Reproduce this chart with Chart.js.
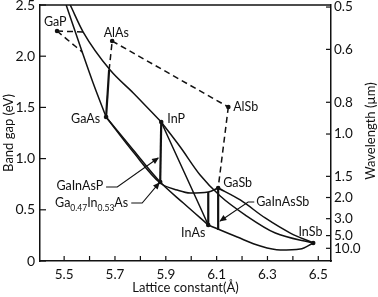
<!DOCTYPE html>
<html>
<head>
<meta charset="utf-8">
<script src="https://cdn.jsdelivr.net/npm/chart.js@4"></script>
<style>
  html, body { margin: 0; padding: 0; background: #fff; }
</style>
</head>
<body>
<canvas id="bandgap" width="378" height="297"></canvas>
<script>
// Binary compounds: lattice constant (Å) and band gap (eV)
const compoundNames = ['GaP', 'AlAs', 'AlSb', 'GaAs', 'InP', 'GaSb', 'InAs', 'InSb', 'Ga0.47In0.53As'];
const compoundA = [5.472, 5.689, 6.146, 5.665, 5.882, 6.106, 6.067, 6.480, 5.878];
const compoundE = [2.246, 2.148, 1.504, 1.406, 1.357, 0.713, 0.352, 0.176, 0.771];

// Alloy curves, [a, Eg]
const gaAsP = [[5.508, 2.50], [5.571, 2.041], [5.614, 1.738], [5.665, 1.406]];
const gaAsPIndirect = [[5.472, 2.246], [5.571, 2.041]];
const gaInP = [[5.524, 2.50], [5.575, 2.236], [5.681, 1.865], [5.772, 1.641], [5.882, 1.357]];
const gaInPIndirect = [[5.472, 2.246], [5.579, 2.236]];
const alGaAs = [[5.665, 1.406], [5.677, 1.865]];
const alGaAsIndirect = [[5.677, 1.865], [5.689, 2.148]];
const alAsSb = [[5.689, 2.148], [6.146, 1.504]];
const alGaSb = [[6.146, 1.504], [6.106, 0.713]];
const gaInAs = [[5.665, 1.406], [5.772, 1.084], [5.878, 0.771], [5.969, 0.566], [6.067, 0.352]];
const gaAsSb = [[5.665, 1.406], [5.772, 1.064], [5.878, 0.762], [5.945, 0.693], [5.996, 0.664], [6.067, 0.674], [6.106, 0.713]];
const inAsP = [[5.882, 1.357], [5.972, 0.869], [6.067, 0.352]];
const inPSb = [[5.882, 1.357], [5.957, 1.113], [6.035, 0.840], [6.114, 0.635], [6.213, 0.449], [6.331, 0.273], [6.480, 0.176]];
const gaInSb = [[6.106, 0.713], [6.193, 0.596], [6.291, 0.420], [6.390, 0.273], [6.480, 0.176]];
const inAsSb = [[6.067, 0.352], [6.181, 0.234], [6.272, 0.146], [6.350, 0.107], [6.429, 0.117], [6.480, 0.176]];
const gaInAsP = [[5.882, 1.357], [5.878, 0.771]];
const gaInAsSbA = [[6.067, 0.352], [6.067, 0.674]];
const gaInAsSbB = [[6.106, 0.713], [6.106, 0.303]];

// Axis ticks
const xTicks = [5.5, 5.6, 5.7, 5.8, 5.9, 6.0, 6.1, 6.2, 6.3, 6.4, 6.5];
const xLabels = [5.5, 5.7, 5.9, 6.1, 6.3, 6.5];
const yTicks = [0, 0.5, 1.0, 1.5, 2.0, 2.5];
const wavelengths = [0.5, 0.6, 0.8, 1.0, 1.5, 2.0, 3.0, 5.0, 10.0]; // µm, placed at E = 1.24 / λ

// Text annotations: [text, a, Eg, align]
const labels = [
  ['GaP', 5.465, 2.334, 'center'],
  ['AlAs', 5.705, 2.227, 'center'],
  ['AlSb', 6.165, 1.504, 'left'],
  ['GaAs', 5.642, 1.387, 'right'],
  ['InP', 5.906, 1.387, 'left'],
  ['GaSb', 6.126, 0.762, 'left'],
  ['InAs', 6.008, 0.273, 'center'],
  ['InSb', 6.469, 0.283, 'center'],
  ['GaInAsP', 5.654, 0.732, 'right'],
  ['GaInAsSb', 6.256, 0.576, 'left']
];
// Leader lines ending in an arrow
const leaders = [
  [[5.665, 0.723], [5.709, 0.723], [5.870, 1.006]],
  [[5.764, 0.566], [5.807, 0.566], [5.874, 0.762]],
  [[6.248, 0.576], [6.224, 0.576], [6.114, 0.391]]
];

const ink = '#111';
Chart.defaults.font.family = 'Lato';
Chart.defaults.color = ink;

const curve = (pts, opts) => ({
  data: pts.map(([x, y]) => ({ x, y })),
  showLine: true,
  borderColor: ink,
  borderWidth: 1.5,
  pointRadius: 0,
  cubicInterpolationMode: 'monotone',
  ...opts
});
const dashed = { borderDash: [6, 4] };
const thick = { borderWidth: 2.2 };

// inward ticks, top frame, labels, arrows and right axis title
const extras = {
  id: 'extras',
  afterDraw(chart) {
    const { ctx, chartArea: a, scales: { x, y, y2 } } = chart;
    const seg = (x1, y1, x2, y2_) => { ctx.beginPath(); ctx.moveTo(x1, y1); ctx.lineTo(x2, y2_); ctx.stroke(); };
    ctx.save();
    ctx.strokeStyle = ink;
    ctx.fillStyle = ink;
    ctx.lineWidth = 1.5;
    seg(a.left, a.top, a.right, a.top);
    ctx.lineWidth = 1.2;
    x.ticks.forEach(t => { const p = x.getPixelForValue(t.value); seg(p, a.bottom, p, a.bottom - 5); });
    y.ticks.forEach(t => { const p = y.getPixelForValue(t.value); seg(a.left, p, a.left + 6, p); });
    y2.ticks.forEach(t => { const p = y2.getPixelForValue(t.value); seg(a.right, p, a.right - 5, p); });

    // leaders
    ctx.lineWidth = 1.1;
    leaders.forEach(pts => {
      const px = pts.map(([u, v]) => [x.getPixelForValue(u), y.getPixelForValue(v)]);
      ctx.beginPath();
      px.forEach(([u, v], i) => (i ? ctx.lineTo(u, v) : ctx.moveTo(u, v)));
      ctx.stroke();
      const [x1, y1] = px[px.length - 2];
      const [x2, y2_] = px[px.length - 1];
      const ang = Math.atan2(y2_ - y1, x2 - x1);
      ctx.save();
      ctx.translate(x2, y2_);
      ctx.rotate(ang);
      ctx.beginPath();
      ctx.moveTo(1, 0); ctx.lineTo(-6, -3); ctx.lineTo(-6, 3); ctx.closePath();
      ctx.fill();
      ctx.restore();
    });

    // labels
    ctx.font = '12.5px Lato';
    ctx.textBaseline = 'middle';
    labels.forEach(([t, u, v, al]) => {
      ctx.textAlign = al;
      ctx.fillText(t, x.getPixelForValue(u), y.getPixelForValue(v));
    });

    // Ga0.47In0.53As with subscripts, right aligned
    const parts = [['Ga', 0], ['0.47', 1], ['In', 0], ['0.53', 1], ['As', 0]];
    const big = '12.5px Lato', small = '8.5px Lato';
    let w = 0;
    parts.forEach(([t, s]) => { ctx.font = s ? small : big; w += ctx.measureText(t).width; });
    let cx = x.getPixelForValue(5.752) - w;
    const cy = y.getPixelForValue(0.566);
    ctx.textAlign = 'left';
    parts.forEach(([t, s]) => {
      ctx.font = s ? small : big;
      ctx.fillText(t, cx, s ? cy + 5 : cy);
      cx += ctx.measureText(t).width;
    });

    // right axis title, reading upwards
    ctx.font = '13px Lato';
    ctx.textAlign = 'center';
    ctx.translate(chart.width - 7, (a.top + a.bottom) / 2 - 2);
    ctx.rotate(-Math.PI / 2);
    ctx.fillText('Wavelength (µm)', 0, 0);
    ctx.restore();
  }
};

const border = { display: true, color: ink, width: 1.5 };

new Chart(document.getElementById('bandgap'), {
  type: 'scatter',
  data: {
    datasets: [
      curve(gaAsP), curve(gaAsPIndirect, dashed),
      curve(gaInP), curve(gaInPIndirect, dashed),
      curve(alGaAs, thick), curve(alGaAsIndirect, dashed),
      curve(alAsSb, dashed), curve(alGaSb, dashed),
      curve(gaInAs), curve(gaAsSb), curve(inAsP), curve(inPSb),
      curve(gaInSb), curve(inAsSb),
      curve(gaInAsP, thick), curve(gaInAsSbA, thick), curve(gaInAsSbB, thick),
      {
        data: compoundA.map((a, i) => ({ x: a, y: compoundE[i] })),
        pointRadius: 2.3,
        pointBackgroundColor: ink,
        pointBorderWidth: 0
      }
    ]
  },
  options: {
    responsive: false,
    animation: false,
    layout: { padding: { top: 5, left: 0, right: 0, bottom: 0 } },
    plugins: { legend: { display: false }, tooltip: { enabled: false } },
    scales: {
      x: {
        type: 'linear', min: 5.405, max: 6.55,
        afterBuildTicks: s => { s.ticks = xTicks.map(v => ({ value: v })); },
        afterFit: s => { s.height = 36; s.paddingLeft = 0; s.paddingRight = 0; },
        grid: { display: false, drawTicks: false },
        border,
        ticks: {
          autoSkip: false, maxRotation: 0, padding: 6,
          font: { size: 13.5 },
          callback: v => (xLabels.some(l => Math.abs(l - v) < 1e-6) ? v.toFixed(1) : '')
        },
        title: { display: true, text: 'Lattice constant(Å)', font: { size: 13 }, padding: { top: 0, bottom: 1 } }
      },
      y: {
        type: 'linear', min: 0, max: 2.5,
        afterBuildTicks: s => { s.ticks = yTicks.map(v => ({ value: v })); },
        afterFit: s => { s.width = 40; s.paddingTop = 0; s.paddingBottom = 0; },
        grid: { display: false, drawTicks: false },
        border,
        ticks: { autoSkip: false, padding: 5, font: { size: 14 }, callback: v => (v === 0 ? '0' : v.toFixed(1)) },
        title: { display: true, text: 'Band gap (eV)', font: { size: 13 }, padding: { top: 1, bottom: 0 } }
      },
      y2: {
        type: 'linear', position: 'right', min: 0, max: 2.5,
        afterBuildTicks: s => { s.ticks = wavelengths.map(l => ({ value: 1.24 / l })); },
        afterFit: s => { s.width = 47; s.paddingTop = 0; s.paddingBottom = 0; },
        grid: { display: false, drawTicks: false },
        border,
        ticks: { autoSkip: false, padding: 3, font: { size: 13.5 }, callback: (v, i) => wavelengths[i].toFixed(1) }
      }
    }
  },
  plugins: [extras]
});
</script>
</body>
</html>
